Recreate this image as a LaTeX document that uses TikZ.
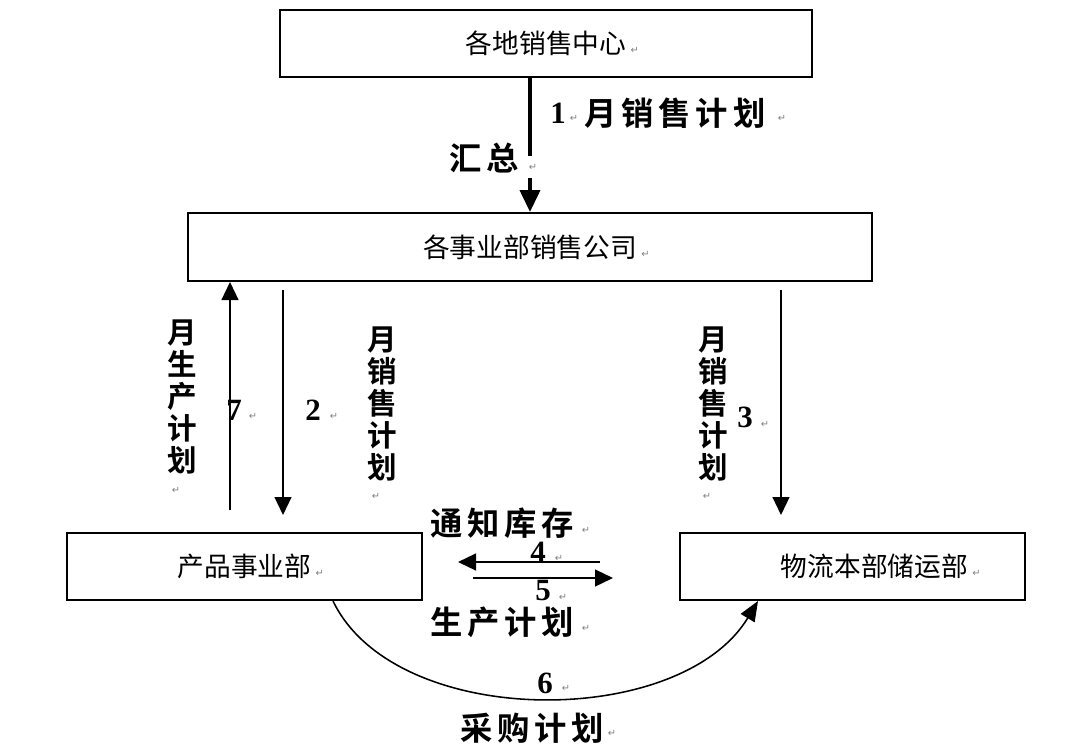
\documentclass[tikz,border=0pt]{standalone}
\usepackage{fontspec}
\setmainfont{Liberation Serif}
\newfontfamily\cjk{Noto Sans CJK SC}
\newfontfamily\cjkb{Noto Sans CJK SC}[UprightFont=* Bold, LetterSpace=15]
\newfontfamily\cjkv{Noto Sans CJK SC}[UprightFont=* Bold]
\newfontfamily\dv{DejaVu Sans}
\usetikzlibrary{arrows.meta}
\newcommand\retm{{\dv\fontsize{7pt}{7pt}\selectfont\textcolor{gray}{↵}}}
\begin{document}
\begin{tikzpicture}[x=0.025cm,y=-0.025cm,
  box/.style={draw, line width=1.4pt, inner sep=0pt, font=\cjk\fontsize{19pt}{19pt}\selectfont},
  bigarr/.style={line width=2.8pt, -{Triangle[width=0.5cm,length=0.55cm]}},
  arr/.style={line width=1.4pt, -{Triangle[width=0.42cm,length=0.45cm]}},
  curvearr/.style={line width=1.1pt, -{Triangle[width=0.4cm,length=0.5cm]}},
  hlab/.style={font=\cjkb\fontsize{23pt}{23pt}\selectfont, inner sep=0pt},
  vlab/.style={font=\cjkv\fontsize{21pt}{22.8pt}\selectfont, align=center, inner sep=0pt},
  num/.style={font=\bfseries\fontsize{22pt}{22pt}\selectfont, inner sep=0pt},
  rm/.style={inner sep=0pt}
]
\useasboundingbox (0,0) rectangle (1080,750);
\fill[white] (0,0) rectangle (1080,750);

% boxes
\node[box, minimum width=13.3cm, minimum height=1.675cm] (top) at (546,43.5) {各地销售中心\rlap{\,\retm}};
\node[box, minimum width=17.1cm, minimum height=1.7cm] (div) at (530,247) {各事业部销售公司\rlap{\,\retm}};
\node[box, minimum width=8.875cm, minimum height=1.675cm] (prod) at (244.5,566.5) {产品事业部\rlap{\,\retm}};
\node[box, minimum width=8.625cm, minimum height=1.675cm] (logi) at (852.5,566.5) {\hspace*{1.1cm}物流本部储运部\rlap{\,\retm}};

% coordinates for connector ends
\coordinate (a1) at (530,0);
\coordinate (s7) at (230,510);
\coordinate (s2) at (283,290);
\coordinate (e2) at (283,515);
\coordinate (s3) at (781,290);
\coordinate (e3) at (781,515);
\coordinate (s4) at (600,562);
\coordinate (e4) at (458,562);
\coordinate (s5) at (473,578);
\coordinate (e5) at (613,578);
\coordinate (c6a) at (333,0);
\coordinate (c6b) at (758,0);

% connectors
\draw[bigarr] (top.south -| a1) -- (div.north -| a1);
\node[rm, fill=white, minimum height=0.55cm, minimum width=0.3cm] (gap1) at (533,167) {\retm};
\draw[arr] (s7) -- (div.south -| s7);
\draw[arr] (s2) -- (e2);
\draw[arr] (s3) -- (e3);
\draw[arr] (s4) -- (e4);
\draw[arr] (s5) -- (e5);
\draw[curvearr] (prod.south -| c6a) .. controls (395,730) and (680,730) .. (logi.south -| c6b);

% labels
\node[num] (n1) at (558,113) {1};
\node[rm] (r1) at (574,118) {\retm};
\node[hlab, anchor=west] (l1) at (584,113) {月销售计划};
\node[rm] (r1b) at (782,118) {\retm};
\node[hlab] (hz) at (484,158) {汇总};

\node[vlab] (v7) at (182,397) {月\\生\\产\\计\\划};
\node[rm] (rv7) at (176,490) {\retm};
\node[num] (n7) at (234,410) {7};
\node[rm] (r7) at (253,416) {\retm};
\node[num] (n2) at (313,410) {2};
\node[rm] (r2) at (334,416) {\retm};
\node[vlab] (v2) at (382,404) {月\\销\\售\\计\\划};
\node[rm] (rv2) at (376,496) {\retm};
\node[vlab] (v3) at (713,404) {月\\销\\售\\计\\划};
\node[rm] (rv3) at (707,496) {\retm};
\node[num] (n3) at (745,417) {3};
\node[rm] (r3) at (765,424) {\retm};

\node[hlab] (tz) at (502,523) {通知库存};
\node[rm] (rtz) at (586,530) {\retm};
\node[num] (n4) at (538,552) {4};
\node[rm] (r4) at (559,558) {\retm};
\node[num] (n5) at (543,591) {5};
\node[rm] (r5) at (563,597) {\retm};
\node[hlab] (sc) at (502,622) {生产计划};
\node[rm] (rsc) at (586,628) {\retm};
\node[num] (n6) at (545,683) {6};
\node[rm] (r6) at (566,688) {\retm};
\node[hlab] (cg) at (532,728) {采购计划};
\node[rm] (rcg) at (612,733) {\retm};
\end{tikzpicture}
\end{document}
